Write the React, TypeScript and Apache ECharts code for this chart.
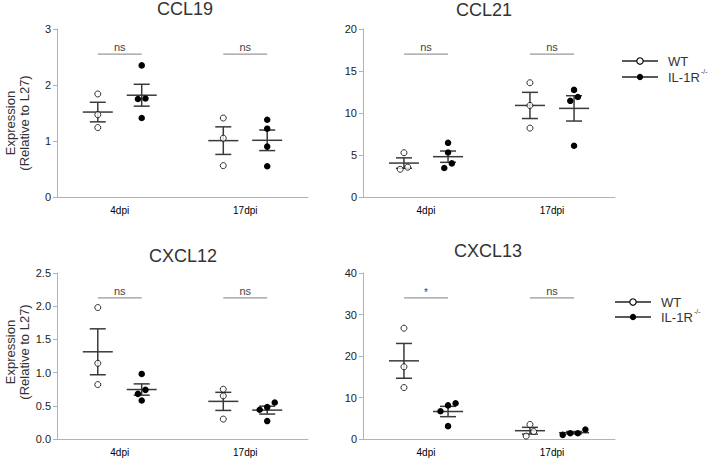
import React, { useEffect, useRef } from "react";
import * as echarts from "echarts";

// ---------- data ----------
const categories = ["4dpi", "17dpi"];
const groupNames = ["WT", "IL-1R"];
const panelTitles = ["CCL19", "CCL21", "CXCL12", "CXCL13"];
const yMax = [3, 20, 2.5, 40];
const yInterval = [1, 5, 0.5, 10];
const yDecimals = [0, 0, 1, 0];

// values per category: [4dpi, 17dpi]
const ccl19WT = [[1.84, 1.47, 1.24], [1.41, 1.05, 0.56]];
const ccl19KO = [[2.35, 1.76, 1.75, 1.41], [1.38, 1.22, 0.9, 0.55]];
const ccl21WT = [[5.27, 3.55, 3.3], [13.6, 10.9, 8.2]];
const ccl21KO = [[6.45, 5.3, 4.0, 3.45], [12.75, 11.9, 11.45, 6.1]];
const cxcl12WT = [[1.98, 1.14, 0.82], [0.75, 0.65, 0.3]];
const cxcl12KO = [[0.98, 0.74, 0.68, 0.58], [0.55, 0.48, 0.44, 0.27]];
const cxcl13WT = [[26.7, 17.4, 12.4], [3.5, 1.8, 0.7]];
const cxcl13KO = [[8.6, 8.1, 6.7, 3.1], [2.3, 1.4, 1.4, 1.0]];

const sigCCL19 = ["ns", "ns"];
const sigCCL21 = ["ns", "ns"];
const sigCXCL12 = ["ns", "ns"];
const sigCXCL13 = ["*", "ns"];

const panelWT = [ccl19WT, ccl21WT, cxcl12WT, cxcl13WT];
const panelKO = [ccl19KO, ccl21KO, cxcl12KO, cxcl13KO];
const panelSig = [sigCCL19, sigCCL21, sigCXCL12, sigCXCL13];

// ---------- layout ----------
const grids = [
  { left: 57, top: 29, width: 251, height: 168 },
  { left: 363, top: 29, width: 252, height: 168 },
  { left: 57, top: 273, width: 251, height: 166 },
  { left: 363, top: 273, width: 252, height: 166 },
];
const titlePos = [
  [185, 9],
  [484, 10],
  [183, 256],
  [488, 251],
];
const FONT = "Liberation Sans, Arial, Helvetica, sans-serif";
const GROUP_OFFSET = 0.175;
const JITTER_STEP = 0.06;
const SIG_LEVEL = 0.85;

function mean(a: number[]) {
  return a.reduce((s, v) => s + v, 0) / a.length;
}
function sem(a: number[]) {
  const m = mean(a);
  const v = a.reduce((s, x) => s + (x - m) * (x - m), 0) / (a.length - 1);
  return Math.sqrt(v) / Math.sqrt(a.length);
}
// simple beeswarm: spread points of near-equal value side by side
function swarm(vals: number[], center: number, thr: number) {
  const sorted = [...vals].sort((a, b) => a - b);
  const out: number[][] = [];
  let cluster: number[] = [];
  const flush = () => {
    const k = cluster.length;
    cluster.forEach((v, i) => out.push([center + (i - (k - 1) / 2) * JITTER_STEP, v]));
    cluster = [];
  };
  sorted.forEach((v) => {
    if (cluster.length && v - cluster[cluster.length - 1] >= thr) flush();
    cluster.push(v);
  });
  flush();
  return out;
}

function buildOption() {
  const xAxis: any[] = [];
  const yAxis: any[] = [];
  const series: any[] = [];
  const axisColor = "#b3b3b3";

  grids.forEach((g, p) => {
    xAxis.push({
      type: "category",
      gridIndex: p,
      data: categories,
      axisLine: { lineStyle: { color: axisColor, width: 1 } },
      axisTick: { alignWithLabel: true, length: 4, lineStyle: { color: axisColor } },
      axisLabel: { color: "#000", fontSize: 10, margin: 8, fontFamily: FONT },
    });
    xAxis.push({ type: "value", gridIndex: p, min: 0, max: 2, show: false });
    const dec = yDecimals[p];
    yAxis.push({
      type: "value",
      gridIndex: p,
      min: 0,
      max: yMax[p],
      interval: yInterval[p],
      axisLine: { show: true, lineStyle: { color: axisColor, width: 1 } },
      axisTick: { show: true, length: 4, lineStyle: { color: axisColor } },
      axisLabel: {
        color: "#222",
        fontSize: 11,
        margin: 6,
        fontFamily: FONT,
        formatter: (v: number) => v.toFixed(dec),
      },
      splitLine: { show: false },
    });

    const thr = yMax[p] * 0.035;
    const wtPts: number[][] = [];
    const koPts: number[][] = [];
    const stats: number[][] = [];
    categories.forEach((_, c) => {
      const cw = c + 0.5 - GROUP_OFFSET;
      const ck = c + 0.5 + GROUP_OFFSET;
      const w = panelWT[p][c];
      const k = panelKO[p][c];
      wtPts.push(...swarm(w, cw, thr));
      koPts.push(...swarm(k, ck, thr));
      stats.push([cw, mean(w), sem(w)]);
      stats.push([ck, mean(k), sem(k)]);
    });

    series.push({
      type: "custom",
      name: "sig" + p,
      xAxisIndex: 2 * p + 1,
      yAxisIndex: p,
      data: categories.map((_, c) => [c + 0.5, yMax[p] * SIG_LEVEL, c]),
      encode: { x: 0, y: 1 },
      silent: true,
      renderItem: (params: any, api: any) => {
        const cx = api.value(0);
        const lvl = api.value(1);
        const c = api.value(2);
        const a = api.coord([cx - GROUP_OFFSET, lvl]);
        const b = api.coord([cx + GROUP_OFFSET, lvl]);
        const label = panelSig[p][c];
        return {
          type: "group",
          children: [
            {
              type: "line",
              shape: { x1: a[0], y1: a[1], x2: b[0], y2: b[1] },
              style: { stroke: "#999", lineWidth: 1.2 },
            },
            {
              type: "text",
              x: (a[0] + b[0]) / 2,
              y: a[1] - (label === "*" ? 5 : 7),
              style: {
                text: label,
                textAlign: "center",
                textVerticalAlign: "middle",
                fontSize: label === "*" ? 10 : 11,
                fontFamily: FONT,
                fill: "#444",
              },
            },
          ],
        };
      },
    });

    series.push({
      type: "custom",
      name: "meanSem" + p,
      xAxisIndex: 2 * p + 1,
      yAxisIndex: p,
      data: stats,
      encode: { x: 0, y: 1 },
      silent: true,
      z: 2,
      renderItem: (params: any, api: any) => {
        const x = api.value(0);
        const m = api.value(1);
        const s = api.value(2);
        const pm = api.coord([x, m]);
        const pt = api.coord([x, m + s]);
        const pb = api.coord([x, m - s]);
        const st = { stroke: "#3a3a3a", lineWidth: 1.5 };
        return {
          type: "group",
          children: [
            { type: "line", shape: { x1: pm[0] - 15, y1: pm[1], x2: pm[0] + 15, y2: pm[1] }, style: st },
            { type: "line", shape: { x1: pt[0], y1: pt[1], x2: pb[0], y2: pb[1] }, style: st },
            { type: "line", shape: { x1: pt[0] - 8, y1: pt[1], x2: pt[0] + 8, y2: pt[1] }, style: st },
            { type: "line", shape: { x1: pb[0] - 8, y1: pb[1], x2: pb[0] + 8, y2: pb[1] }, style: st },
          ],
        };
      },
    });

    series.push({
      type: "scatter",
      name: groupNames[0],
      xAxisIndex: 2 * p + 1,
      yAxisIndex: p,
      data: wtPts,
      symbol: "circle",
      symbolSize: 6,
      z: 5,
      itemStyle: { color: "#fff", borderColor: "#000", borderWidth: 1 },
    });
    series.push({
      type: "scatter",
      name: groupNames[1],
      xAxisIndex: 2 * p + 1,
      yAxisIndex: p,
      data: koPts,
      symbol: "circle",
      symbolSize: 6.5,
      z: 5,
      itemStyle: { color: "#000", opacity: 1 },
    });
  });

  const graphic: any[] = [];
  panelTitles.forEach((t, i) => {
    graphic.push({
      type: "text",
      x: titlePos[i][0],
      y: titlePos[i][1],
      style: {
        text: t,
        textAlign: "center",
        textVerticalAlign: "middle",
        fontSize: 18,
        fontWeight: "normal",
        fontFamily: FONT,
        fill: "#333",
      },
    });
  });
  // y axis names
  [123, 352].forEach((cy) => {
    graphic.push({
      type: "text",
      x: 10,
      y: cy,
      rotation: Math.PI / 2,
      style: { text: "Expression", textAlign: "center", textVerticalAlign: "middle", fontSize: 13, fontFamily: FONT, fill: "#333" },
    });
    graphic.push({
      type: "text",
      x: 24,
      y: cy,
      rotation: Math.PI / 2,
      style: { text: "(Relative to L27)", textAlign: "center", textVerticalAlign: "middle", fontSize: 13, fontFamily: FONT, fill: "#333" },
    });
  });
  // legends
  const legendSpots = [
    { x: 622, yw: 61, yk: 77 },
    { x: 615, yw: 302, yk: 317 },
  ];
  legendSpots.forEach((L) => {
    [L.yw, L.yk].forEach((yy, gi) => {
      graphic.push({
        type: "line",
        shape: { x1: L.x, y1: yy, x2: L.x + 36, y2: yy },
        style: { stroke: "#222", lineWidth: 1.3 },
      });
      graphic.push({
        type: "circle",
        shape: { cx: L.x + 18, cy: yy, r: 3.2 },
        style: gi === 0 ? { fill: "#fff", stroke: "#000", lineWidth: 1.1 } : { fill: "#000" },
      });
      graphic.push({
        type: "text",
        x: L.x + 46,
        y: yy,
        style: { text: groupNames[gi], textVerticalAlign: "middle", fontSize: 13, fontFamily: FONT, fill: "#333" },
      });
      if (gi === 1) {
        graphic.push({
          type: "text",
          x: L.x + 46 + 33,
          y: yy - 6,
          style: { text: "-/-", textVerticalAlign: "middle", fontSize: 7, fontFamily: FONT, fill: "#333" },
        });
      }
    });
  });

  return {
    animation: false,
    backgroundColor: "#fff",
    textStyle: { fontFamily: FONT },
    grid: grids,
    xAxis,
    yAxis,
    series,
    graphic,
  };
}

export default function App() {
  const ref = useRef<HTMLDivElement>(null);
  useEffect(() => {
    if (!ref.current) return;
    const chart = echarts.init(ref.current, undefined, { renderer: "svg" });
    chart.setOption(buildOption() as any);
    return () => chart.dispose();
  }, []);
  return (
    <div
      ref={ref}
      style={{ position: "fixed", left: 0, top: 0, width: 708, height: 460, background: "#fff" }}
    />
  );
}
